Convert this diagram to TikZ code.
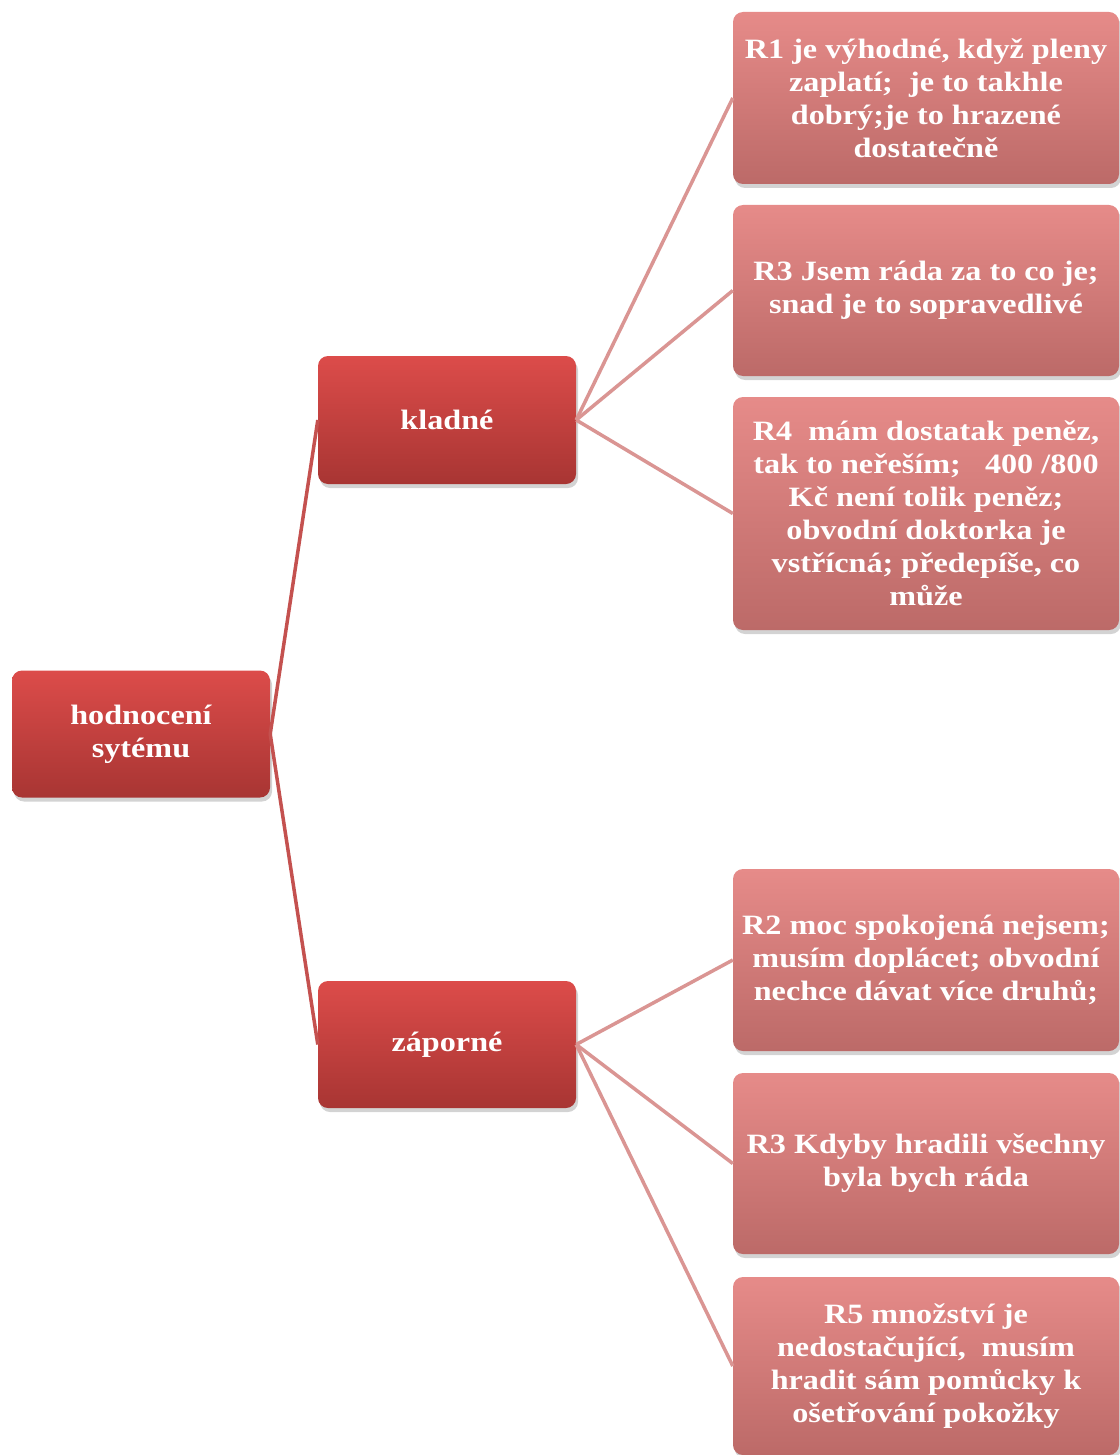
\documentclass[tikz,border=0pt]{standalone}
\usepackage{fontspec}
\setmainfont{Liberation Serif}[FakeStretch=1.15]
\usetikzlibrary{shadows}
\definecolor{parTop}{HTML}{DC4C4A}
\definecolor{parBot}{HTML}{A83533}
\definecolor{leafTop}{HTML}{E68B89}
\definecolor{leafBot}{HTML}{BC6A68}
\definecolor{trunkLine}{HTML}{C4514F}
\definecolor{twigLine}{HTML}{DA9593}
\tikzset{
  box/.style={rectangle, rounded corners=10pt, inner sep=0pt, align=center,
    text=white, font=\fontsize{28}{33}\selectfont\bfseries,
    drop shadow={opacity=0.35, shadow xshift=2pt, shadow yshift=-4pt}},
  parent/.style={box, top color=parTop, bottom color=parBot,
    minimum width=258pt, minimum height=127pt},
  leaf/.style={box, top color=leafTop, bottom color=leafBot,
    minimum width=386pt},
  trunk/.style={draw=trunkLine, line width=3.5pt},
  twig/.style={draw=twigLine, line width=3.5pt}
}
\begin{document}
\begin{tikzpicture}[x=1pt,y=-1pt]
\useasboundingbox (0,0) rectangle (1119,1455);

% level 0 and level 1
\node[parent] (root) at (141,734) {hodnocení\\sytému};
\node[parent, minimum height=128pt] (pos) at (447,420) {kladné};
\node[parent] (neg) at (447,1044.5) {záporné};

% positive answers
\node[leaf, minimum height=172pt] (r1) at (926,98)
  {R1 je výhodné, když pleny\\zaplatí;\ \ je to takhle\\dobrý;je to hrazené\\dostatečně};
\node[leaf, minimum height=171pt] (r3a) at (926,290.5)
  {R3 Jsem ráda za to co je;\\snad je to sopravedlivé};
\node[leaf, minimum height=233pt] (r4) at (926,513.5)
  {R4\ \ mám dostatak peněz,\\tak to neřeším;\ \ \ 400 /800\\Kč není tolik peněz;\\obvodní doktorka je\\vstřícná; předepíše, co\\může};

% negative answers
\node[leaf, minimum height=182pt] (r2) at (926,960)
  {R2 moc spokojená nejsem;\\musím doplácet; obvodní\\nechce dávat více druhů;};
\node[leaf, minimum height=181pt] (r3b) at (926,1163.5)
  {R3 Kdyby hradili všechny\\byla bych ráda};
\node[leaf, minimum height=178pt] (r5) at (926,1366)
  {R5 množství je\\nedostačující,\ \ musím\\hradit sám pomůcky k\\ošetřování pokožky};

% connectors
\draw[trunk] (root.east) -- (pos.west);
\draw[trunk] (root.east) -- (neg.west);
\foreach \c in {r1,r3a,r4} \draw[twig] (pos.east) -- (\c.west);
\foreach \c in {r2,r3b,r5} \draw[twig] (neg.east) -- (\c.west);
\end{tikzpicture}
\end{document}
